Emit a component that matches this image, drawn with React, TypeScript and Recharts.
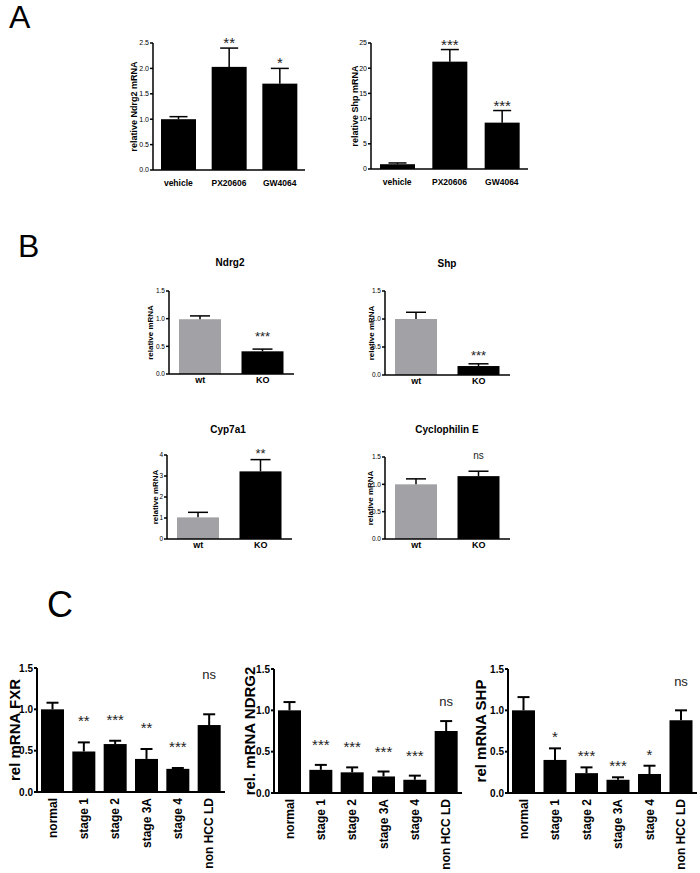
import { Bar, BarChart, XAxis, YAxis } from "recharts";

// A: FXR agonists
const treatments = ["vehicle", "PX20606", "GW4064"];
const ndrg2Agonist = [1.0, 2.03, 1.7];
const ndrg2AgonistSem = [0.05, 0.37, 0.3];
const ndrg2AgonistSig = ["", "**", "*"];
const shpAgonist = [0.95, 21.3, 9.2];
const shpAgonistSem = [0.25, 2.4, 2.4];
const shpAgonistSig = ["", "***", "***"];

// B: wt vs KO
const genotypes = ["wt", "KO"];
const genotypeColors = ["#a2a2a6", "#000000"];
const ndrg2Ko = [0.99, 0.41];
const ndrg2KoSem = [0.06, 0.04];
const ndrg2KoSig = ["", "***"];
const shpKo = [1.0, 0.16];
const shpKoSem = [0.12, 0.04];
const shpKoSig = ["", "***"];
const cypKo = [1.03, 3.22];
const cypKoSem = [0.24, 0.56];
const cypKoSig = ["", "**"];
const cycloKo = [1.0, 1.15];
const cycloKoSem = [0.1, 0.09];
const cycloKoSig = ["", "ns"];

// C: human HCC stages
const stages = ["normal", "stage 1", "stage 2", "stage 3A", "stage 4", "non HCC LD"];
const fxrHcc = [1.0, 0.49, 0.58, 0.4, 0.28, 0.81];
const fxrHccSem = [0.08, 0.11, 0.04, 0.12, 0.01, 0.13];
const fxrHccSig = ["", "**", "***", "**", "***", "ns"];
const ndrg2Hcc = [1.0, 0.28, 0.25, 0.2, 0.16, 0.75];
const ndrg2HccSem = [0.1, 0.06, 0.06, 0.06, 0.05, 0.12];
const ndrg2HccSig = ["", "***", "***", "***", "***", "ns"];
const shpHcc = [1.0, 0.4, 0.24, 0.16, 0.23, 0.88];
const shpHccSem = [0.16, 0.14, 0.07, 0.03, 0.1, 0.12];
const shpHccSig = ["", "*", "***", "***", "*", "ns"];

const ticksNdrg2A = [0, 0.5, 1, 1.5, 2, 2.5];
const ticksShpA = [0, 5, 10, 15, 20, 25];
const ticks15 = [0, 0.5, 1, 1.5];
const ticks4 = [0, 1, 2, 3, 4];

type Look = {
  tick: number;
  ylab: number;
  cat: number;
  star: number;
  ns: number;
  barW: number;
  capW: number;
  line: number;
  catGap: number;
  rotate?: boolean;
};

const lookA: Look = { tick: 7, ylab: 9, cat: 8.5, star: 15, ns: 12, barW: 35, capW: 9, line: 1.5, catGap: 10 };
const lookB: Look = { tick: 6.5, ylab: 8, cat: 9, star: 13, ns: 10, barW: 42, capW: 10, line: 1.5, catGap: 2.5 };
const lookC: Look = { tick: 10, ylab: 15, cat: 12, star: 15, ns: 13, barW: 23, capW: 6, line: 2, catGap: 6, rotate: true };

function Panel(p: {
  cats: string[];
  means: number[];
  sems: number[];
  sigs: string[];
  colors?: string[];
  x0: number;
  x1: number;
  yTop: number;
  yBot: number;
  axisW: number;
  max: number;
  ticks: number[];
  digits: number;
  yLabel: string;
  look: Look;
  sigGap: number;
  nsGap: number;
}) {
  const s = p.look;
  const rows = p.cats.map((name, i) => ({
    name,
    mean: p.means[i],
    sem: p.sems[i],
    sig: p.sigs[i],
    fill: p.colors ? p.colors[i] : "#000000"
  }));
  const mt = 30;
  const xh = s.rotate ? 873 - p.yBot : 26;
  const w = p.x1 - p.x0 + p.axisW;
  const h = mt + (p.yBot - p.yTop) + xh;

  // bar + upper SEM whisker + significance mark
  const shape = (b: any) => {
    const { x, y, width, height, payload } = b;
    const perUnit = height / payload.mean;
    const top = y - payload.sem * perUnit;
    const cx = x + width / 2;
    const ns = payload.sig === "ns";
    return (
      <g>
        <rect x={x} y={y} width={width} height={height} fill={payload.fill} />
        <line x1={cx} x2={cx} y1={y} y2={top} stroke="#000" strokeWidth={s.line} />
        <line x1={cx - s.capW} x2={cx + s.capW} y1={top} y2={top} stroke="#000" strokeWidth={s.line} />
        {payload.sig && (
          <text
            x={cx}
            y={top - (ns ? p.nsGap : p.sigGap)}
            textAnchor="middle"
            fontSize={ns ? s.ns : s.star}
            fill="#222"
          >
            {payload.sig}
          </text>
        )}
      </g>
    );
  };

  const rotTick = (t: any) => (
    <text
      x={t.x}
      y={t.y}
      transform={`rotate(-90 ${t.x} ${t.y})`}
      textAnchor="end"
      dominantBaseline="central"
      fontSize={s.cat}
      fontWeight="bold"
      fill="#000"
    >
      {t.payload.value}
    </text>
  );

  // y title centred on the plot height, in the middle of the axis band
  const yTitle = () => {
    const lx = p.axisW / 2;
    const ly = mt + (p.yBot - p.yTop) / 2;
    return (
      <text
        x={lx}
        y={ly}
        transform={`rotate(-90 ${lx} ${ly})`}
        textAnchor="middle"
        dominantBaseline="central"
        fontSize={s.ylab}
        fontWeight="bold"
        fill="#000"
      >
        {p.yLabel}
      </text>
    );
  };

  return (
    <div style={{ position: "absolute", left: p.x0 - p.axisW, top: p.yTop - mt }}>
      <BarChart width={w} height={h} data={rows} margin={{ top: mt, right: 0, bottom: 0, left: 0 }} barSize={s.barW}>
        <XAxis
          dataKey="name"
          height={xh}
          interval={0}
          axisLine={{ stroke: "#000", strokeWidth: s.line }}
          tickLine={false}
          tickSize={0}
          tickMargin={s.catGap}
          tick={s.rotate ? rotTick : { fontSize: s.cat, fontWeight: "bold", fill: "#000" }}
        />
        <YAxis
          width={p.axisW}
          domain={[0, p.max]}
          ticks={p.ticks}
          interval={0}
          tickFormatter={(v) => v.toFixed(p.digits)}
          axisLine={{ stroke: "#000", strokeWidth: s.line }}
          tickLine={{ stroke: "#000", strokeWidth: s.line }}
          tickSize={3}
          tickMargin={1}
          tick={{ fontSize: s.tick, fill: "#000", fontWeight: s.rotate ? "bold" : "normal" }}
          label={yTitle}
        />
        <Bar dataKey="mean" isAnimationActive={false} shape={shape} />
      </BarChart>
    </div>
  );
}

function Title({ text, cx, cy }: { text: string; cx: number; cy: number }) {
  return (
    <div
      style={{
        position: "absolute",
        left: cx - 70,
        width: 140,
        top: cy - 5,
        textAlign: "center",
        fontSize: 10,
        lineHeight: "10px",
        fontWeight: "bold"
      }}
    >
      {text}
    </div>
  );
}

function Letter({ text, x, y, size }: { text: string; x: number; y: number; size: number }) {
  return (
    <div style={{ position: "absolute", left: x, top: y, fontSize: size, lineHeight: `${size}px` }}>{text}</div>
  );
}

export default function App() {
  return (
    <div
      style={{
        position: "absolute",
        left: 0,
        top: 0,
        width: 700,
        height: 873,
        overflow: "hidden",
        background: "#fff",
        fontFamily: '"Liberation Sans", Arial, sans-serif',
        color: "#000"
      }}
    >
      <Letter text="A" x={9} y={1} size={32} />
      <Letter text="B" x={18} y={230} size={32} />
      <Letter text="C" x={47} y={587} size={36} />

      <Panel cats={treatments} means={ndrg2Agonist} sems={ndrg2AgonistSem} sigs={ndrg2AgonistSig}
        x0={153} x1={305} yTop={43} yBot={170} axisW={38} max={2.5} ticks={ticksNdrg2A} digits={1}
        yLabel="relative Ndrg2 mRNA" look={lookA} sigGap={0} nsGap={0} />
      <Panel cats={treatments} means={shpAgonist} sems={shpAgonistSem} sigs={shpAgonistSig}
        x0={371} x1={528} yTop={43} yBot={169} axisW={32} max={25} ticks={ticksShpA} digits={0}
        yLabel="relative Shp mRNA" look={lookA} sigGap={0} nsGap={0} />

      <Title text="Ndrg2" cx={230} cy={263} />
      <Title text="Shp" cx={447} cy={264} />
      <Title text="Cyp7a1" cx={228} cy={430} />
      <Title text="Cyclophilin E" cx={447} cy={430} />
      <Panel cats={genotypes} means={ndrg2Ko} sems={ndrg2KoSem} sigs={ndrg2KoSig} colors={genotypeColors}
        x0={169} x1={294} yTop={291} yBot={374} axisW={38} max={1.5} ticks={ticks15} digits={1}
        yLabel="relative  mRNA" look={lookB} sigGap={8} nsGap={12} />
      <Panel cats={genotypes} means={shpKo} sems={shpKoSem} sigs={shpKoSig} colors={genotypeColors}
        x0={385} x1={510} yTop={291} yBot={375} axisW={28} max={1.5} ticks={ticks15} digits={1}
        yLabel="relative  mRNA" look={lookB} sigGap={4} nsGap={12} />
      <Panel cats={genotypes} means={cypKo} sems={cypKoSem} sigs={cypKoSig} colors={genotypeColors}
        x0={167} x1={292} yTop={455} yBot={539} axisW={24} max={4} ticks={ticks4} digits={0}
        yLabel="relative  mRNA" look={lookB} sigGap={2} nsGap={12} />
      <Panel cats={genotypes} means={cycloKo} sems={cycloKoSem} sigs={cycloKoSig} colors={genotypeColors}
        x0={385} x1={510} yTop={457} yBot={539} axisW={30} max={1.5} ticks={ticks15} digits={1}
        yLabel="relative  mRNA" look={lookB} sigGap={4} nsGap={12} />

      <Panel cats={stages} means={fxrHcc} sems={fxrHccSem} sigs={fxrHccSig}
        x0={37} x1={225} yTop={668} yBot={792} axisW={46} max={1.5} ticks={ticks15} digits={1}
        yLabel="rel mRNA FXR" look={lookC} sigGap={16} nsGap={35} />
      <Panel cats={stages} means={ndrg2Hcc} sems={ndrg2HccSem} sigs={ndrg2HccSig}
        x0={274} x1={462} yTop={669} yBot={793} axisW={50} max={1.5} ticks={ticks15} digits={1}
        yLabel="rel. mRNA NDRG2" look={lookC} sigGap={15} nsGap={15} />
      <Panel cats={stages} means={shpHcc} sems={shpHccSem} sigs={shpHccSig}
        x0={508} x1={697} yTop={669} yBot={793} axisW={56} max={1.5} ticks={ticks15} digits={1}
        yLabel="rel mRNA SHP" look={lookC} sigGap={6} nsGap={24} />
    </div>
  );
}
